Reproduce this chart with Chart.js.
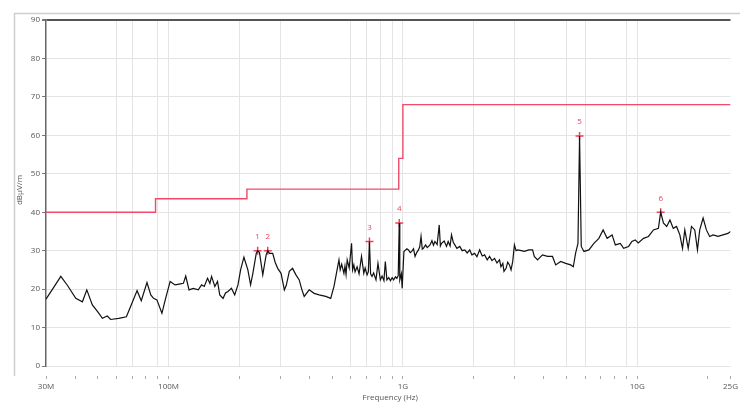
<!DOCTYPE html>
<html>
<head>
<meta charset="utf-8">
<script src="https://cdn.jsdelivr.net/npm/chart.js@4/dist/chart.umd.min.js"></script>
<style>
  html, body { margin: 0; padding: 0; background: #fff; }
  #wrap { width: 740px; height: 403px; position: relative; }
</style>
</head>
<body>
<div id="wrap"><canvas id="c" width="740" height="403"></canvas></div>
<script>
// ---- data (frequencies in MHz, levels in dBµV/m) ----
const traceFreqMHz = [
  30, 32, 34.7, 37, 40.2, 42.9, 44.8, 47.3, 50, 52.2, 54.8, 56.6, 61.3, 66.1, 70, 73.4, 76.5, 80.9, 84, 86.3, 89.2, 93.7, 96.8,
  101.6, 106.6, 111, 115.7, 118.4, 122.3, 127.5, 133.9, 138.4, 142, 146.7, 150.1, 152.6, 157.6, 161.8, 165.4, 170.9, 175, 179.4,
  185.5, 191.5, 197.8, 203, 209.7, 218, 223.9, 229, 236.7, 240, 244.4, 252.4, 260.9, 265, 269.5, 278.3, 285, 292.2, 302.1, 312,
  318, 327.6, 338.2, 349.6, 361.1, 370, 379.2, 398.2, 418.2, 439, 468.6, 492, 508.1, 533.5, 540, 548, 560.1, 566, 572, 578.5,
  590, 603.9, 610, 617.6, 625, 637.7, 650, 665.8, 681, 690, 703.2, 712, 719.8, 728, 738.3, 750, 767.7, 782.7, 801.2, 815, 830,
  841.4, 854.6, 870, 885, 900, 912.6, 930, 942.3, 955, 964.7, 970, 985, 993, 1010, 1040, 1056, 1075, 1091, 1110, 1127, 1145,
  1165, 1180, 1195, 1210, 1223, 1250, 1270, 1305, 1330, 1350, 1370, 1400, 1429, 1445, 1462, 1500, 1535, 1560, 1590, 1612,
  1640, 1666, 1700, 1749, 1790, 1837, 1880, 1928, 1970, 2024, 2070, 2126, 2180, 2232, 2290, 2343, 2400, 2461, 2520, 2584,
  2620, 2669, 2700, 2756, 2800, 2849, 2894, 2942, 2991, 3040, 3089, 3200, 3298, 3450, 3576, 3636, 3754, 3941, 4139, 4347,
  4488, 4713, 4950, 5199, 5335, 5454, 5585, 5673, 5768, 5922, 6219, 6531, 6858, 7152, 7437, 7810, 8061, 8464, 8749, 9186,
  9487, 9799, 10100, 10635, 11166, 11724, 12309, 12590, 12927, 13350, 13788, 14243, 14711, 15194, 15600, 15953, 16497,
  17036, 17594, 18065, 18475, 19097, 19723, 20369, 21055, 22110, 23215, 24368, 25000
];
const traceLevels = [
  17.4, 20, 23.3, 21, 17.6, 16.7, 19.8, 15.9, 14, 12.4, 13.0, 12.1, 12.4, 12.8, 16.5, 19.6, 17.0, 21.7, 18.5, 17.6, 17.2, 13.7, 17.2,
  22.0, 21.1, 21.3, 21.5, 23.4, 19.8, 20.2, 19.8, 21.1, 20.7, 22.8, 21.5, 23.3, 20.7, 22.0, 18.5, 17.6, 19, 19.4,
  20.2, 18.5, 21.1, 25, 28.3, 25.0, 21.1, 24.1, 29.3, 30.0, 29.5, 23.7, 28.9, 30.0, 29.3, 29.3, 27, 25.4, 24.1, 19.8,
  21, 24.6, 25.4, 23.7, 22.4, 20, 18.1, 19.8, 18.9, 18.5, 18.1, 17.6, 20.7, 27.6, 25, 26.5, 24.1, 26, 23.8, 27.6,
  25.5, 31.9, 25, 26.3, 24.5, 25.8, 24, 28.5, 24.1, 25.5, 23.7, 24.5, 32.4, 24, 23.3, 24.2, 22.4, 26.7, 22.4, 23.4, 22.2,
  27.2, 22.4, 23, 22.2, 23, 22.4, 23.2, 22.8, 23.5, 37.2, 22.4, 24, 20.2, 29.8, 30.5, 30.2, 29.5, 29.8, 30.5, 28.5, 29.5,
  30.2, 31, 33.7, 30.4, 30.6, 31.5, 30.8, 31.5, 32.6, 31.4, 32.4, 31.6, 36.7, 31.2, 31.9, 32.5, 31.1, 32.4, 31.2, 34.1,
  32.2, 31.5, 30.6, 31.1, 30.0, 30.2, 29.4, 30.2, 28.9, 29.3, 28.4, 30.2, 28.6, 28.9, 27.6, 28.5, 27.4, 28.0, 26.8, 27.6,
  25.8, 26.7, 24.6, 25.4, 27.0, 26.3, 25.0, 27.2, 31.5, 30.0, 30.2, 30.0, 29.8, 30.2, 30.2, 28.5, 27.6, 28.9, 28.5, 28.5,
  26.3, 27.2, 26.7, 26.3, 25.8, 29.3, 31.9, 59.8, 31.1, 29.8, 30.2, 31.9, 33.2, 35.4, 33.2, 34.1, 31.5, 31.9, 30.6, 31.1,
  32.4, 32.8, 32.0, 33.2, 33.7, 35.4, 35.8, 40.0, 37.2, 36.3, 38.0, 35.8, 36.3, 34.1, 30.6, 35.4, 30.6,
  36.3, 35.4, 30.2, 35.4, 38.5, 35.4, 33.7, 34.1, 33.7, 34.1, 34.5, 35.0
];
const limitFreqMHz = [30, 88, 216, 960, 1000, 25000];
const limitLevels = [40, 43.5, 46, 54, 68, 68];
const markerFreqMHz = [240, 265, 720, 965, 5673, 12590];
const markerLevels = [30.0, 30.0, 32.4, 37.2, 59.8, 40.0];
const markerLabels = ['1', '2', '3', '4', '5', '6'];
const xTickValues = [30, 40, 50, 60, 70, 80, 90, 100, 200, 300, 400, 500, 600, 700, 800, 900,
  1000, 2000, 3000, 4000, 5000, 6000, 7000, 8000, 9000, 10000, 20000, 25000];
const xTickLabels = { 30: '30M', 100: '100M', 1000: '1G', 10000: '10G', 25000: '25G' };
const xGridValues = [60, 70, 90, 100, 200, 300, 600, 700, 800, 900, 1000, 2000, 3000, 5000, 6000, 9000, 10000];
const yTickValues = [0, 10, 20, 30, 40, 50, 60, 70, 80, 90];
const xTitle = 'Frequency (Hz)';
const yTitle = 'dBµV/m';

// ---- chart ----
const FONT = "'Open Sans', 'DejaVu Sans', sans-serif";
Chart.defaults.font.family = FONT;
Chart.defaults.font.size = 8;
Chart.defaults.color = '#555';

const gridSet = new Set(xGridValues);

const decorPlugin = {
  id: 'decor',
  beforeDraw(chart) {
    const ctx = chart.ctx;
    ctx.save();
    ctx.fillStyle = '#fff';
    ctx.fillRect(0, 0, chart.width, chart.height);
    ctx.strokeStyle = '#cfcfcf';
    ctx.lineWidth = 1.5;
    ctx.beginPath();
    ctx.moveTo(14.5, 376);
    ctx.lineTo(14.5, 13.5);
    ctx.lineTo(740, 13.5);
    ctx.stroke();
    ctx.restore();
  },
  afterDraw(chart) {
    const ctx = chart.ctx;
    const a = chart.chartArea;
    ctx.save();
    ctx.fillStyle = '#555';
    ctx.font = '8px ' + FONT;
    ctx.textAlign = 'center';
    ctx.textBaseline = 'middle';
    ctx.fillText(xTitle, (a.left + a.right) / 2 + 2, 398);
    ctx.translate(20, 190);
    ctx.rotate(-Math.PI / 2);
    ctx.fillText(yTitle, 0, 0);
    ctx.restore();
  }
};

const markerLabelPlugin = {
  id: 'markerLabels',
  afterDatasetsDraw(chart) {
    const xs = chart.scales.x, ys = chart.scales.y;
    const ctx = chart.ctx;
    ctx.save();
    ctx.fillStyle = '#e8435e';
    ctx.font = '8px ' + FONT;
    ctx.textAlign = 'center';
    ctx.textBaseline = 'middle';
    markerFreqMHz.forEach((f, i) => {
      const px = xs.getPixelForValue(f);
      const py = ys.getPixelForValue(markerLevels[i]);
      ctx.fillText(markerLabels[i], px, py - 14);
    });
    ctx.restore();
  }
};

new Chart(document.getElementById('c'), {
  type: 'line',
  data: {
    datasets: [
      {
        label: 'Limit',
        data: limitFreqMHz.map((f, i) => ({ x: f, y: limitLevels[i] })),
        stepped: 'before',
        borderColor: '#f04a68',
        borderWidth: 1.4,
        pointRadius: 0,
        fill: false
      },
      {
        label: 'Trace',
        data: traceFreqMHz.map((f, i) => ({ x: f, y: traceLevels[i] })),
        borderColor: '#111',
        borderWidth: 1.2,
        pointRadius: 0,
        tension: 0,
        fill: false
      },
      {
        label: 'Markers',
        data: markerFreqMHz.map((f, i) => ({ x: f, y: markerLevels[i] })),
        showLine: false,
        pointStyle: 'cross',
        pointRadius: 4,
        pointBorderColor: '#e8435e',
        pointBorderWidth: 1.5,
        borderColor: '#e8435e'
      }
    ]
  },
  options: {
    responsive: false,
    animation: false,
    devicePixelRatio: 1,
    layout: { padding: { top: 20, right: 6, left: 0, bottom: 0 } },
    plugins: { legend: { display: false }, tooltip: { enabled: false } },
    scales: {
      x: {
        type: 'logarithmic',
        min: 30,
        max: 25000,
        afterBuildTicks(scale) { scale.ticks = xTickValues.map(v => ({ value: v })); },
        afterFit(scale) { scale.height = 37; },
        ticks: {
          autoSkip: false,
          maxRotation: 0,
          padding: 2,
          color: '#555',
          callback: (v) => xTickLabels[v] || ''
        },
        border: { display: false },
        grid: {
          color: (c) => (c.tick && gridSet.has(c.tick.value)) ? '#e4e4e4' : 'rgba(0,0,0,0)',
          lineWidth: 1,
          tickColor: '#aaa',
          tickLength: 14,
          tickBorderDash: [0, 10, 3, 40]
        }
      },
      y: {
        min: 0,
        max: 90,
        afterBuildTicks(scale) { scale.ticks = yTickValues.map(v => ({ value: v })); },
        afterFit(scale) { scale.width = 46; },
        ticks: { color: '#555', padding: 2 },
        border: { display: true, color: '#666', width: 1.5 },
        grid: {
          color: (c) => (c.tick && c.tick.value === 90) ? '#555' : '#e4e4e4',
          lineWidth: (c) => (c.tick && c.tick.value === 90) ? 2 : 1,
          tickColor: '#777',
          tickLength: 4
        }
      }
    }
  },
  plugins: [decorPlugin, markerLabelPlugin]
});
</script>
</body>
</html>
